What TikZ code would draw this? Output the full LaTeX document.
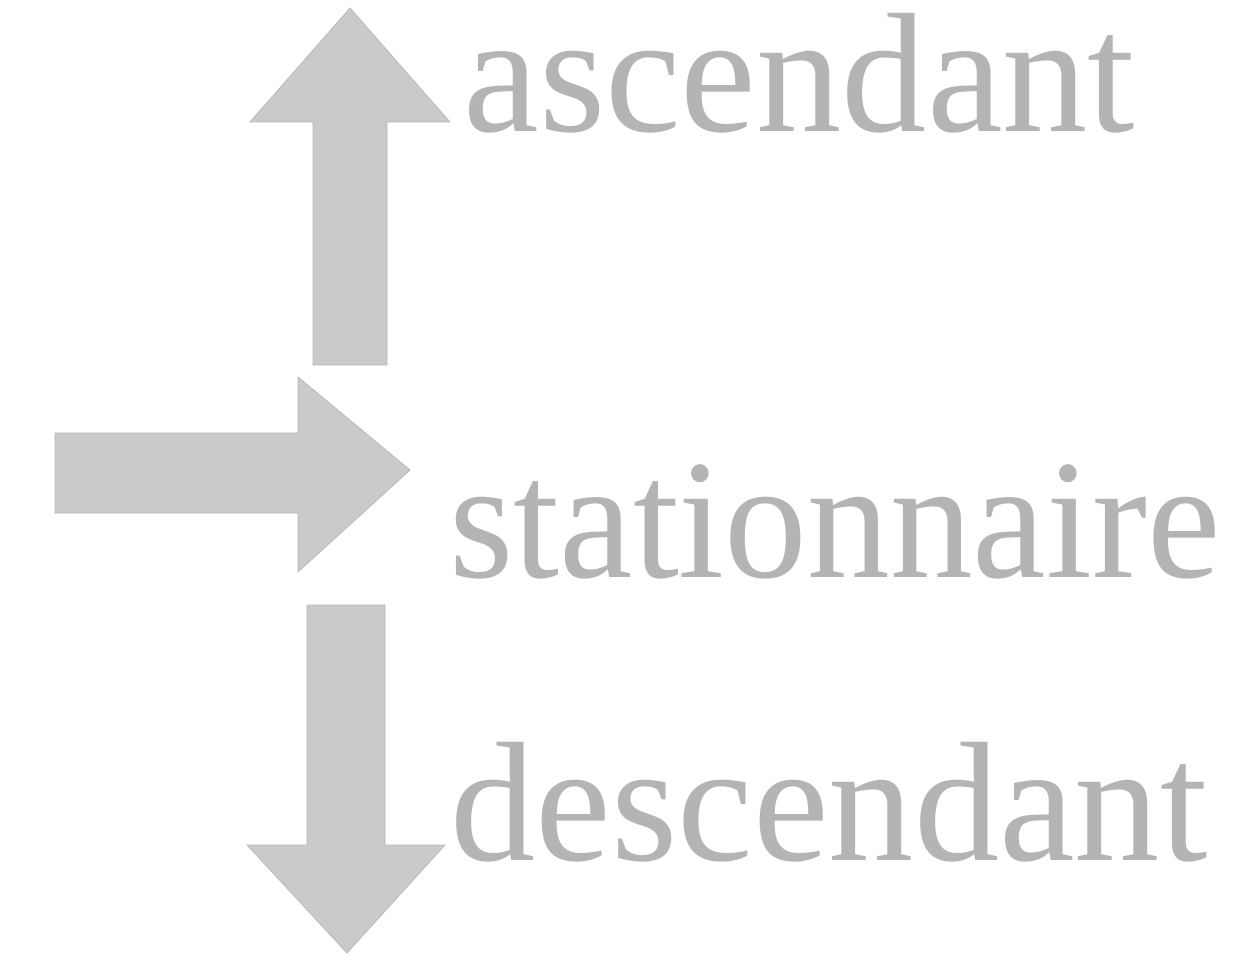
\documentclass[tikz,border=0pt]{standalone}
\usepackage{fontspec}
\setmainfont{Liberation Serif}
\usepackage{xcolor}
\usepackage{tikz}
\usetikzlibrary{positioning, calc}
\definecolor{arrowgray}{RGB}{202, 202, 202}
\definecolor{wordgray}{RGB}{180, 180, 180}

\begin{document}
\begin{tikzpicture}[x=0.02cm, y=-0.02cm,
    blockarrow/.style={fill=arrowgray, draw=arrowgray!90!black, line width=0.4pt},
    word/.style={anchor=base west, inner sep=0pt, text=wordgray,
                 font=\fontsize{97}{110}\selectfont}]
    \useasboundingbox (0,0) rectangle (1236,973);
    % up arrow
    \draw[blockarrow] (313,365) -- (313,122) -- (250,122) -- (350,8)
        -- (450,122) -- (387,122) -- (387,365) -- cycle;
    % right arrow
    \draw[blockarrow] (55,433) -- (298,433) -- (298,377) -- (410,470)
        -- (298,572) -- (298,513) -- (55,513) -- cycle;
    % down arrow
    \draw[blockarrow] (307,605) -- (385,605) -- (385,845) -- (445,845)
        -- (347,953) -- (247,845) -- (307,845) -- cycle;
    % labels
    \node[word] (asc) at (463,132) {ascendant};
    \node[word, xscale=0.97, transform shape] (stat) at (449,577) {stationnaire};
    \node[word] (desc) at (450,860) {descendant};
\end{tikzpicture}
\end{document}
